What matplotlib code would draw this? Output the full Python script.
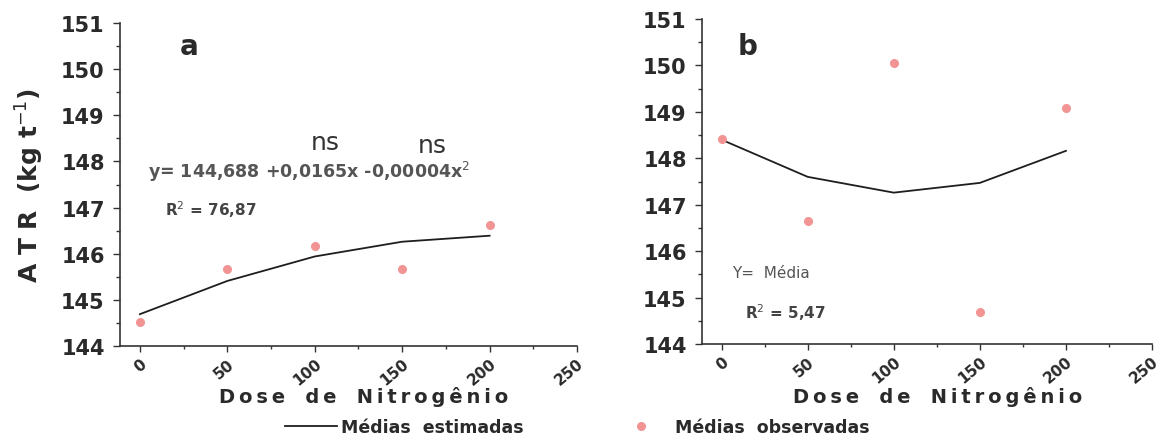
import matplotlib
matplotlib.use("Agg")
import matplotlib.pyplot as plt
from matplotlib.ticker import MultipleLocator

# doses (kg N/ha)
dose = [0, 50, 100, 150, 200]

# panel a
obs_a = [144.52, 145.66, 146.16, 145.66, 146.62]
est_a = [144.69, 145.41, 145.94, 146.26, 146.39]

# panel b
obs_b = [148.41, 146.65, 150.05, 144.69, 149.08]
est_b = [148.40, 147.60, 147.26, 147.47, 148.16]

x_ticks = [0, 50, 100, 150, 200, 250]
y_ticks = [144, 145, 146, 147, 148, 149, 150, 151]

W, H = 1162, 439
LINE_C = "#1e1e1e"
DOT_C = "#f29494"
TXT_C = "#2a2a2a"
THIN = "\u2009"

fig = plt.figure(figsize=(W / 100, H / 100), dpi=100)


def px_axes(left, right, top, bottom):
    return fig.add_axes([left / W, 1 - bottom / H, (right - left) / W, (bottom - top) / H])


def spaced(word):
    # loose letter spacing like the scanned figure
    return "   ".join(THIN.join(w) for w in word.split(" "))


ax_a = px_axes(120, 577, 24, 347)
ax_b = px_axes(702, 1152, 20, 345)

for ax in (ax_a, ax_b):
    ax.set_xlim(-11.4, 250)
    ax.set_ylim(144, 151)
    ax.set_xticks(x_ticks)
    ax.set_yticks(y_ticks)
    ax.xaxis.set_minor_locator(MultipleLocator(25))
    ax.yaxis.set_minor_locator(MultipleLocator(0.5))
    for side in ("top", "right"):
        ax.spines[side].set_visible(False)
    for side in ("left", "bottom"):
        ax.spines[side].set_linewidth(1.2)
        ax.spines[side].set_color("#333333")
    ax.tick_params(axis="both", which="both", direction="out", color="#333333", width=1.0)
    ax.tick_params(axis="y", which="major", length=5, pad=6, labelsize=15, labelcolor=TXT_C)
    ax.tick_params(axis="y", which="minor", length=3)
    ax.tick_params(axis="x", which="major", length=4, pad=3, labelsize=11, labelcolor=TXT_C)
    ax.tick_params(axis="x", which="minor", length=2.5)
    for lab in ax.get_yticklabels():
        lab.set_fontweight("bold")
    for lab in ax.get_xticklabels():
        lab.set_fontweight("bold")
        lab.set_rotation(40)
        lab.set_ha("right")
        lab.set_va("top")
        lab.set_rotation_mode("anchor")

line_a, = ax_a.plot(dose, est_a, color=LINE_C, lw=1.3, label="Médias  estimadas")
dots_a, = ax_a.plot(dose, obs_a, ls="none", marker="o", ms=5.5, color=DOT_C,
                    label="Médias  observadas")
ax_b.plot(dose, est_b, color=LINE_C, lw=1.3)
ax_b.plot(dose, obs_b, ls="none", marker="o", ms=5.5, color=DOT_C)

# annotations panel a
ax_a.text(28, 150.5, "a", fontsize=20, fontweight="bold", color=TXT_C, ha="center", va="center")
ax_a.text(4.6, 147.79, "y= 144,688 +0,0165x -0,00004x$^{2}$", fontsize=12.5,
          fontweight="semibold", color="#555555", ha="left", va="center")
ax_a.text(14.3, 146.97, "R$^{2}$ = 76,87", fontsize=11, fontweight="bold", color="#444444",
          ha="left", va="center")
ax_a.text(106, 148.42, "ns", fontsize=18, color="#333333", ha="center", va="center")
ax_a.text(167, 148.36, "ns", fontsize=18, color="#333333", ha="center", va="center")

# annotations panel b
ax_b.text(15, 150.42, "b", fontsize=20, fontweight="bold", color=TXT_C, ha="center", va="center")
ax_b.text(6.3, 145.55, "Y=  Média", fontsize=11, color="#555555", ha="left", va="center")
ax_b.text(13.7, 144.69, "R$^{2}$ = 5,47", fontsize=11, fontweight="bold", color="#444444",
          ha="left", va="center")

# axis titles
fig.text(30 / W, 1 - 185 / H, "A T R  (kg t$^{-1}$)", rotation=90, fontsize=18,
         fontweight="bold", color=TXT_C, ha="center", va="center")
xlab = spaced("Dose de Nitrogênio")
fig.text(364 / W, 1 - 397 / H, xlab, fontsize=14, fontweight="bold", color=TXT_C,
         ha="center", va="center")
fig.text(938 / W, 1 - 397 / H, xlab, fontsize=14, fontweight="bold", color=TXT_C,
         ha="center", va="center")

# legend entries
leg1 = fig.legend(handles=[line_a], loc="center left", bbox_to_anchor=(285 / W, 1 - 428 / H),
                  frameon=False, borderpad=0, borderaxespad=0, handlelength=3.0,
                  handletextpad=0.2, prop={"size": 12.5, "weight": "bold"})
leg2 = fig.legend(handles=[dots_a], loc="center left", bbox_to_anchor=(628 / W, 1 - 428 / H),
                  frameon=False, borderpad=0, borderaxespad=0, handlelength=1.5,
                  handletextpad=1.2, prop={"size": 12.5, "weight": "bold"})
for leg in (leg1, leg2):
    for t in leg.get_texts():
        t.set_color(TXT_C)

fig.savefig("out.png", dpi=100)
